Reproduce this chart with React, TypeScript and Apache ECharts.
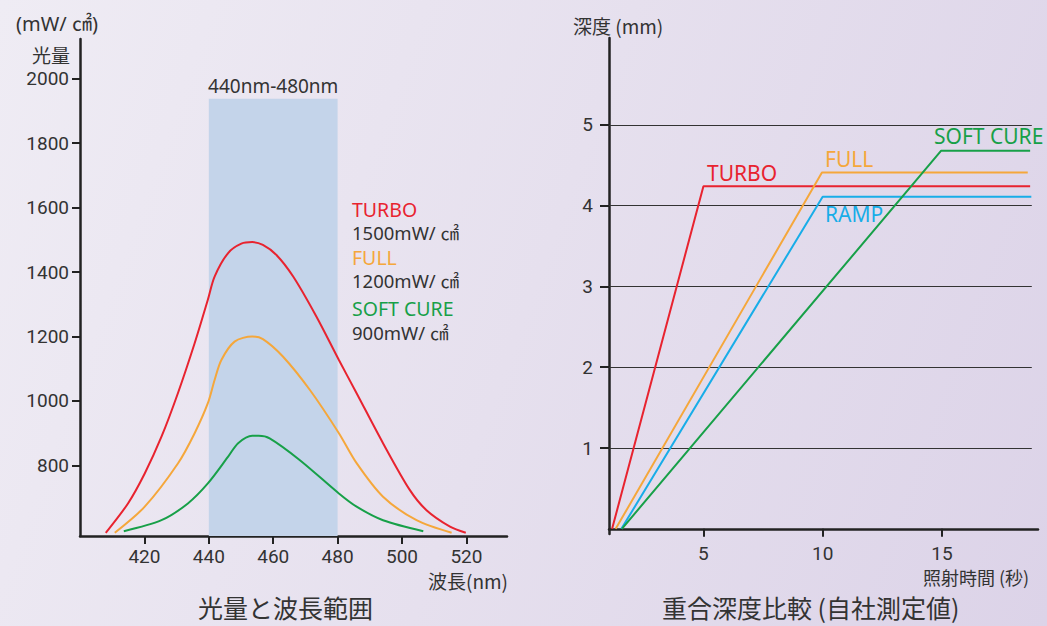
import React, { useEffect, useRef } from "react";
import * as echarts from "echarts";

// ---- Left chart: light output (mW/cm2) vs wavelength (nm) ----
const turboSpectrum: [number, number][] = [
  [408, 591], [414.9, 682], [420.1, 775], [425.3, 889], [430.4, 1024], [435.6, 1179], [439.7, 1314],
  [441.8, 1386], [446, 1459], [450.1, 1488], [453.5, 1493], [456.8, 1484], [461, 1453], [466.2, 1386],
  [473.4, 1262], [480.4, 1127], [485.9, 1024], [494.1, 869], [502.4, 724], [507.6, 661], [514.9, 610],
  [519.8, 591],
];
const fullSpectrum: [number, number][] = [
  [410.8, 591], [420.1, 672], [430.4, 806], [435.6, 900], [439.7, 993], [441.8, 1065], [443.9, 1127],
  [448, 1184], [453.5, 1200], [456.8, 1192], [463, 1138], [471.4, 1034], [480.4, 900], [485.9, 807],
  [494.1, 703], [504.5, 630], [515.4, 591],
];
const softSpectrum: [number, number][] = [
  [413.6, 596], [425.3, 630], [433.5, 682], [439.7, 744], [446, 827], [449.1, 869], [453.5, 892],
  [455.5, 892], [458.9, 884], [468.2, 817], [480.4, 713], [485.9, 672], [494.1, 630], [506.6, 596],
];
const spectrumTicksY = [800, 1000, 1200, 1400, 1600, 1800, 2000];
const spectrumTicksX = [420, 440, 460, 480, 500, 520];
const bandRange = [440, 480];
const bandTop = 1938;
const spectrumLegend = [
  { name: "TURBO", power: "1500mW/ ㎠" },
  { name: "FULL", power: "1200mW/ ㎠" },
  { name: "SOFT CURE", power: "900mW/ ㎠" },
];

// ---- Right chart: cure depth (mm) vs irradiation time (s) ----
const turboDepth: [number, number][] = [[1.17, 0], [5.0, 4.24], [18.7, 4.24]];
const fullDepth: [number, number][] = [[1.32, 0], [9.97, 4.41], [18.6, 4.41]];
const rampDepth: [number, number][] = [[1.56, 0], [10.0, 4.11], [18.75, 4.11]];
const softDepth: [number, number][] = [[1.58, 0], [14.97, 4.68], [18.7, 4.68]];
const depthTicksY = [1, 2, 3, 4, 5];
const depthTicksX = [5, 10, 15];
const depthGridEnd = 18.77;

const RED = "#e8232f";
const ORANGE = "#f5a73b";
const GREEN = "#17a048";
const BLUE = "#18ade8";
const DARK = "#333333";
const NUMFONT = "Roboto, sans-serif";
const LATIN = "'Noto Sans', 'Noto Sans CJK JP', sans-serif";
const JFONT = "'Noto Sans CJK JP', 'Noto Sans', sans-serif";

export default function App() {
  const ref = useRef<HTMLDivElement>(null);
  useEffect(() => {
    document.body.style.margin = "0";
    if (!ref.current) return;
    const chart = echarts.init(ref.current, undefined, { renderer: "svg" });
    const axisLineStyle = { color: "#222", width: 2.5 };
    const tickStyle = { color: "#222", width: 2 };
    const axisLabel = { color: DARK, fontSize: 19, fontFamily: NUMFONT };
    const lineSeries = (data: [number, number][], color: string, idx: number, smooth: number | boolean) => ({
      type: "line",
      xAxisIndex: idx,
      yAxisIndex: idx,
      data,
      smooth,
      symbol: "none",
      lineStyle: { color, width: 2 },
      z: 3,
    });
    const txt = (x: number, y: number, text: string, color: string, size = 21, font = LATIN) => ({
      type: "text",
      x,
      y,
      style: {
        text, fill: color, fontSize: size, fontFamily: font, align: "left", verticalAlign: "middle",
      },
    });
    const legendColors = [RED, ORANGE, GREEN];
    const legendY = [[209, 232.5], [257, 280.5], [308, 332]];
    const legendTexts: any[] = [];
    spectrumLegend.forEach((l, i) => {
      legendTexts.push(txt(352, legendY[i][0], l.name, legendColors[i], 19.5));
      legendTexts.push(txt(352, legendY[i][1], l.power, DARK, 18.5));
    });
    chart.setOption({
      animation: false,
      backgroundColor: "transparent",
      grid: [
        { left: 80, top: 39, width: 427, height: 497 },
        { left: 609, top: 38, width: 429, height: 496 },
      ],
      xAxis: [
        {
          type: "value", gridIndex: 0, min: 400, max: 532.6,
          axisLine: { lineStyle: axisLineStyle },
          axisTick: { customValues: spectrumTicksX, length: 8, lineStyle: tickStyle },
          axisLabel: { ...axisLabel, customValues: spectrumTicksX, margin: 11 },
          splitLine: { show: false },
        },
        {
          type: "value", gridIndex: 1, min: 1.04, max: 19.03,
          axisLine: { lineStyle: axisLineStyle },
          axisTick: { customValues: depthTicksX, length: 8, lineStyle: tickStyle },
          axisLabel: { ...axisLabel, customValues: depthTicksX, margin: 10 },
          splitLine: { show: false },
        },
      ],
      yAxis: [
        {
          type: "value", gridIndex: 0, min: 581, max: 2123,
          axisLine: { show: true, lineStyle: axisLineStyle },
          axisTick: { show: true, customValues: spectrumTicksY, length: 8, lineStyle: tickStyle },
          axisLabel: { ...axisLabel, customValues: spectrumTicksY, margin: 11, formatter: (v: number) => String(v) },
          splitLine: { show: false },
        },
        {
          type: "value", gridIndex: 1, min: -0.064, max: 6.075,
          axisLine: { show: true, lineStyle: axisLineStyle },
          axisTick: { show: true, customValues: depthTicksY, length: 9, lineStyle: tickStyle },
          axisLabel: { ...axisLabel, customValues: depthTicksY, margin: 16 },
          splitLine: { show: false },
        },
      ],
      series: [
        {
          ...lineSeries(turboSpectrum, RED, 0, 0.3),
          markArea: {
            silent: true,
            itemStyle: { color: "#c4d4ea" },
            label: {
              show: true, position: "top", distance: 3, color: DARK, fontSize: 19, fontFamily: LATIN,
              formatter: `${bandRange[0]}nm-${bandRange[1]}nm`,
            },
            data: [[{ xAxis: bandRange[0], yAxis: 581 }, { xAxis: bandRange[1], yAxis: bandTop }]],
          },
        },
        lineSeries(fullSpectrum, ORANGE, 0, 0.3),
        lineSeries(softSpectrum, GREEN, 0, 0.3),
        {
          ...lineSeries(turboDepth, RED, 1, false),
          markLine: {
            silent: true,
            symbol: "none",
            label: { show: false },
            lineStyle: { color: "#333", width: 1, type: "solid" },
            data: depthTicksY.map((v) => [{ coord: [1.04, v] }, { coord: [depthGridEnd, v] }]),
            z: 1,
          },
        },
        lineSeries(fullDepth, ORANGE, 1, false),
        lineSeries(rampDepth, BLUE, 1, false),
        lineSeries(softDepth, GREEN, 1, false),
      ],
      graphic: [
        txt(16, 23, "(mW/ ㎠)", DARK, 20),
        txt(32, 54, "光量", DARK, 19, JFONT),
        ...legendTexts,
        txt(428, 580, "波長(nm)", DARK, 19, JFONT),
        txt(198, 607, "光量と波長範囲", DARK, 25, JFONT),
        txt(573, 25, "深度 (mm)", DARK, 19, JFONT),
        txt(707, 173, "TURBO", RED),
        txt(825, 158.7, "FULL", ORANGE),
        txt(825, 213.5, "RAMP", BLUE),
        txt(934, 135.7, "SOFT CURE", GREEN),
        txt(923, 577, "照射時間 (秒)", DARK, 18, JFONT),
        txt(662, 607, "重合深度比較 (自社測定値)", DARK, 25, JFONT),
      ],
    });
    return () => chart.dispose();
  }, []);
  return (
    <div
      style={{
        width: 1047,
        height: 626,
        background: "linear-gradient(110deg, #efecf4 0%, #e6e0ee 50%, #dcd3e8 100%)",
      }}
    >
      <div ref={ref} style={{ width: 1047, height: 626 }} />
    </div>
  );
}
